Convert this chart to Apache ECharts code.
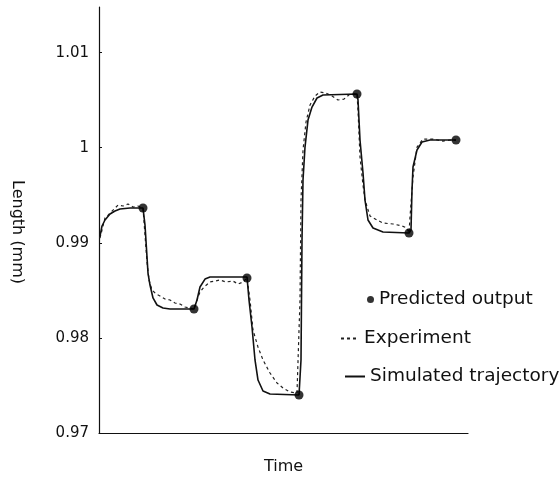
<!DOCTYPE html>
<html lang="en">
<head>
    <meta charset="UTF-8">
    <title>Length vs Time</title>
    <script src="https://cdn.jsdelivr.net/npm/echarts@6/dist/echarts.min.js"></script>
</head>
<body style="margin: 0; background: #fff;">
<div id="chart" style="width: 560px; height: 485px;"></div>
<script type="text/javascript">
    // simulated trajectory (solid)
    var simTime = [0.1, 0.3, 0.6, 1.1, 1.6, 2.1, 3.1, 4.4, 4.6, 4.8, 4.9, 5.1, 5.4, 5.8, 6.4, 7.1, 9.5,
        9.8, 10.1, 10.6, 11.1, 14.8, 15.0, 15.3, 15.6, 15.9, 16.4, 17.1, 20.0,
        20.2, 20.3, 20.4, 20.6, 20.9, 21.3, 21.8, 22.4, 25.8, 25.9, 26.1, 26.4, 26.6, 26.9, 27.4, 28.4, 31.0,
        31.2, 31.3, 31.4, 31.8, 32.3, 33.1, 35.7];
    var simLength = [0.99071, 0.99177, 0.99240, 0.99303, 0.99334, 0.99355, 0.99366, 0.99366, 0.99187, 0.98851, 0.98682, 0.98556, 0.98420, 0.98346, 0.98314, 0.98304, 0.98304,
        0.98399, 0.98535, 0.98619, 0.98640, 0.98640, 0.98399, 0.98115, 0.97768, 0.97557, 0.97442, 0.97410, 0.97400,
        0.97768, 0.99029, 0.99660, 1.00007, 1.00291, 1.00428, 1.00523, 1.00554, 1.00565, 1.00502, 1.00081, 0.99734, 0.99450, 0.99240, 0.99156, 0.99114, 0.99103,
        0.99135, 0.99555, 0.99797, 0.99976, 1.00060, 1.00081, 1.00081];

    // experiment (dashed)
    var expTime = [0.1, 0.3, 0.6, 0.9, 1.3, 1.9, 2.4, 2.9, 3.4, 3.9, 4.4, 4.6, 4.8, 5.0, 5.3, 5.7, 6.1, 6.6, 7.1, 7.6, 8.1, 8.6, 9.1, 9.5,
        9.8, 10.1, 10.5, 11.1, 11.6, 12.1, 12.7, 13.4, 13.9, 14.4, 14.8, 15.1, 15.4, 15.9, 16.4, 17.1, 17.8, 18.4, 19.1, 19.8, 20.0,
        20.1, 20.2, 20.4, 20.7, 21.1, 21.6, 22.1, 22.7, 23.3, 23.9, 24.5, 25.1, 25.8,
        25.9, 26.1, 26.4, 26.6, 27.1, 27.8, 28.4, 29.4, 30.3, 30.8, 31.0,
        31.1, 31.4, 31.8, 32.4, 33.4, 34.4, 35.1, 35.7];
    var expLength = [0.99050, 0.99135, 0.99261, 0.99292, 0.99334, 0.99397, 0.99387, 0.99408, 0.99376, 0.99387, 0.99366, 0.99082, 0.98798, 0.98609, 0.98504, 0.98462, 0.98441, 0.98409, 0.98399, 0.98367, 0.98356, 0.98325, 0.98314, 0.98304,
        0.98399, 0.98483, 0.98535, 0.98588, 0.98598, 0.98609, 0.98588, 0.98598, 0.98567, 0.98588, 0.98630, 0.98399, 0.98083, 0.97904, 0.97768, 0.97631, 0.97526, 0.97473, 0.97431, 0.97421, 0.97400,
        0.98399, 0.99450, 0.99976, 1.00270, 1.00449, 1.00544, 1.00586, 1.00575, 1.00544, 1.00502, 1.00512, 1.00565, 1.00565,
        1.00396, 0.99902, 0.99608, 0.99450, 0.99282, 0.99240, 0.99208, 0.99198, 0.99177, 0.99156, 0.99103,
        0.99271, 0.99692, 1.00007, 1.00091, 1.00091, 1.00070, 1.00081, 1.00081];

    // predicted output (dots)
    var predTime = [4.4, 9.5, 14.8, 20.0, 25.8, 31.0, 35.7];
    var predLength = [0.99366, 0.98304, 0.98630, 0.97400, 1.00565, 0.99103, 1.00081];

    function zip(xs, ys) {
        var out = [];
        for (let i = 0; i < xs.length; i++) {
            out.push([xs[i], ys[i]]);
        }
        return out;
    }

    var font = 'DejaVu Sans';
    var legendText = {color: '#111', fontSize: 18.5, fontFamily: font};

    var option = {
        animation: false,
        backgroundColor: '#fff',
        grid: {left: 99, right: 92, top: 7, bottom: 52},
        legend: [
            {
                data: [{name: 'Predicted output', icon: 'circle'}],
                left: 362, top: 285, itemWidth: 7, itemHeight: 7,
                textStyle: legendText, selectedMode: false
            },
            {
                data: ['Experiment'],
                left: 335, top: 324, itemWidth: 18, itemHeight: 10,
                itemStyle: {opacity: 0},
                textStyle: legendText, selectedMode: false
            },
            {
                data: ['Simulated trajectory'],
                left: 339, top: 362, itemWidth: 20, itemHeight: 10,
                itemStyle: {opacity: 0},
                textStyle: legendText, selectedMode: false
            }
        ],
        xAxis: {
            type: 'value',
            min: 0,
            max: 36.9,
            name: 'Time',
            nameLocation: 'middle',
            nameGap: 26,
            nameTextStyle: {color: '#111', fontSize: 16, fontFamily: font},
            axisLine: {onZero: false, lineStyle: {color: '#111', width: 1.2}},
            axisTick: {show: false},
            axisLabel: {show: false},
            splitLine: {show: false}
        },
        yAxis: {
            type: 'value',
            min: 0.97,
            max: 1.0148,
            interval: 0.01,
            name: 'Length (mm)',
            nameLocation: 'middle',
            nameRotate: -90,
            nameGap: 74,
            nameTextStyle: {color: '#111', fontSize: 16, fontFamily: font, padding: [0, 0, 0, 24]},
            axisLine: {show: true, lineStyle: {color: '#111', width: 1.2}},
            axisTick: {show: true, inside: true, length: 3, lineStyle: {color: '#111'}},
            axisLabel: {color: '#111', fontSize: 15, fontFamily: font, margin: 10, showMaxLabel: false},
            splitLine: {show: false}
        },
        series: [
            {
                name: 'Experiment',
                type: 'line',
                data: zip(expTime, expLength),
                symbol: 'none',
                lineStyle: {color: '#222', width: 1.2, type: [3, 3]},
                itemStyle: {color: '#222'},
                z: 2
            },
            {
                name: 'Simulated trajectory',
                type: 'line',
                data: zip(simTime, simLength),
                symbol: 'none',
                lineStyle: {color: '#111', width: 1.6},
                itemStyle: {color: '#111'},
                z: 3
            },
            {
                name: 'Predicted output',
                type: 'scatter',
                data: zip(predTime, predLength),
                symbol: 'circle',
                symbolSize: 9,
                itemStyle: {color: '#000'},
                z: 4
            }
        ]
    };

    var myChart = echarts.init(document.getElementById('chart'));
    myChart.setOption(option);
</script>
</body>
</html>
